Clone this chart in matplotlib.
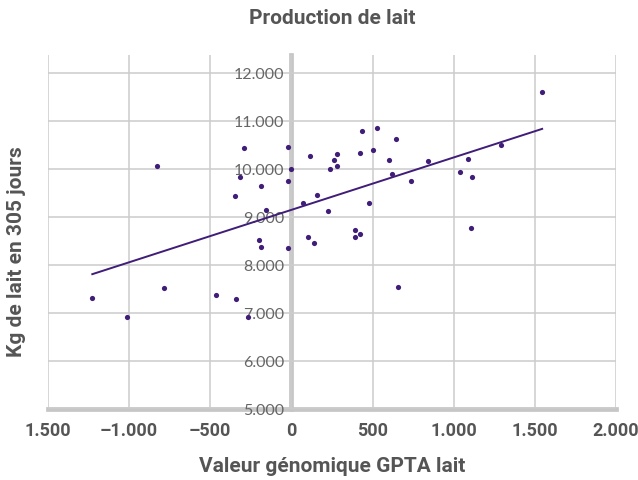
import matplotlib
matplotlib.use("Agg")
import matplotlib.pyplot as plt
import numpy as np

# GPTA value (x) vs milk in 305 days (y)
gpta = [-830, -292, -20, -317, -4, -20, -190, -345, -156, -200, -190, -23,
        117, 70, 156, 224, 101, 140, 278, 261, 239, 278,
        1545, 434, 528, 643, 501, 424, 603, 617, 738, 843, 1086, 1036, 1114,
        1293, 475, 393, 393, 425, 1108,
        -1227, -1013, -785, -465, -339, -269, 658]
lait = [10060, 10440, 10460, 9820, 9995, 9750, 9645, 9435, 9150, 8510, 8370, 8360,
        10265, 9295, 9463, 9113, 8590, 8463, 10308, 10182, 9988, 10050,
        11590, 10784, 10847, 10630, 10400, 10323, 10182, 9889, 9742, 10155, 10203, 9937, 9840,
        10497, 9295, 8736, 8590, 8645, 8770,
        7310, 6912, 7520, 7380, 7296, 6906, 7535]

# trend line end points
trend_x = [-1227, 1545]
trend_y = [7807, 10832]

x_ticks = [-1500, -1000, -500, 0, 500, 1000, 1500, 2000]
x_labels = ['1.500', '–1.000', '–500', '0', '500', '1.000', '1.500', '2.000']
y_ticks = [5000, 6000, 7000, 8000, 9000, 10000, 11000, 12000]
y_labels = ['5.000', '6.000', '7.000', '8.000', '9.000', '10.000', '11.000', '12.000']

purple = '#3f1d78'
grid_c = '#cccccc'
axis_c = '#c6c6c6'
text_c = '#555555'

fig = plt.figure(figsize=(6.38, 4.81), dpi=100)
ax = fig.add_axes([48 / 638, 71 / 481, 568 / 638, 354 / 481])

ax.set_xlim(-1500, 2000)
ax.set_ylim(5000, 12370)

ax.set_xticks(x_ticks)
ax.set_xticklabels(x_labels)
ax.set_yticks(y_ticks)
ax.set_yticklabels(y_labels)

ax.grid(True, color=grid_c, linewidth=1.1)
ax.set_axisbelow(True)

for s in ['top', 'right']:
    ax.spines[s].set_visible(False)
ax.spines['left'].set_position(('data', 0))
for s in ['left', 'bottom']:
    ax.spines[s].set_color(axis_c)
    ax.spines[s].set_linewidth(3.4)
    ax.spines[s].set_zorder(0.4)

ax.tick_params(axis='both', length=0)
ax.tick_params(axis='y', pad=5, labelsize=11.5, labelcolor='#666666')
ax.tick_params(axis='x', pad=9, labelsize=13, labelcolor=text_c)
for lab in ax.get_yticklabels():
    lab.set_fontfamily('Lato')
for lab in ax.get_xticklabels():
    lab.set_fontfamily('Roboto')
    lab.set_fontweight('bold')

ax.plot(trend_x, trend_y, color=purple, linewidth=1.4, zorder=3)
ax.scatter(gpta, lait, s=14, color=purple, zorder=4, linewidths=0)

fig.text(332 / 638, 1 - 19 / 481, 'Production de lait', ha='center', va='center',
         fontsize=15, fontweight='bold', color=text_c, family='Roboto')
fig.text(332 / 638, 1 - 467 / 481, 'Valeur génomique GPTA lait', ha='center', va='center',
         fontsize=15, fontweight='bold', color=text_c, family='Roboto')
fig.text(17 / 638, 1 - 252 / 481, 'Kg de lait en 305 jours', ha='center', va='center',
         rotation=90, fontsize=15, fontweight='bold', color=text_c, family='Roboto')

fig.savefig('out.png', dpi=100)
